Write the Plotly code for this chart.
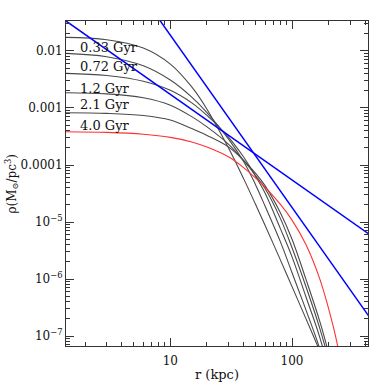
import math
import plotly.graph_objects as go

r = [1.3, 3, 6, 10, 15, 20, 30, 40, 50, 60, 80, 100, 130, 170, 220]
r_red = [1.3, 3, 6, 10, 15, 20, 30, 40, 50, 60, 80, 100, 130, 170, 220, 250]

rho_033 = [1.734e-2, 1.578e-2, 1.127e-2, 5.89e-3, 2.34e-3, 9.53e-4, 2.01e-4, 5.77e-5,
           2.07e-5, 8.77e-6, 2.19e-6, 7.36e-7, 2.02e-7, 5.33e-8, 1.48e-8]
rho_072 = [9.12e-3, 7.94e-3, 5.50e-3, 3.09e-3, 1.55e-3, 8.32e-4, 2.88e-4, 1.15e-4,
           4.57e-5, 1.91e-5, 4.57e-6, 1.29e-6, 2.88e-7, 5.75e-8, 8.13e-9]
rho_12 = [4.06e-3, 3.71e-3, 2.94e-3, 2.04e-3, 1.23e-3, 7.40e-4, 3.08e-4, 1.38e-4,
          6.44e-5, 3.23e-5, 7.74e-6, 2.45e-6, 4.89e-7, 9.10e-8, 1.15e-8]
rho_21 = [1.85e-3, 1.77e-3, 1.51e-3, 1.12e-3, 7.05e-4, 4.66e-4, 2.33e-4, 1.20e-4,
          6.58e-5, 3.87e-5, 1.17e-5, 3.53e-6, 7.38e-7, 1.31e-7, 1.85e-8]
rho_40 = [8.28e-4, 8.05e-4, 7.38e-4, 6.14e-4, 4.35e-4, 3.30e-4, 2.08e-4, 1.20e-4,
          7.21e-5, 4.35e-5, 1.47e-5, 4.99e-6, 9.95e-7, 1.73e-7, 2.33e-8]
rho_red = [3.84e-4, 3.73e-4, 3.46e-4, 3.05e-4, 2.54e-4, 2.06e-4, 1.39e-4, 8.99e-5,
           5.94e-5, 4.11e-5, 2.06e-5, 1.08e-5, 4.02e-6, 9.64e-7, 1.36e-7, 3.84e-8]

# the two power-law lines (endpoints)
r_steep = [5, 500]
rho_steep = [0.154, 1.39e-7]
r_flat = [1, 500]
rho_flat = [0.0551, 4.86e-6]

labels = ["0.33 Gyr", "0.72 Gyr", "1.2 Gyr", "2.1 Gyr", "4.0 Gyr"]
label_y = [0.0113, 0.00531, 0.00224, 0.00113, 0.000503]

y_ticks = [1e-2, 1e-3, 1e-4, 1e-5, 1e-6, 1e-7]
y_text = ["0.01", "0.001", "0.0001", "10<sup>−5</sup>", "10<sup>−6</sup>", "10<sup>−7</sup>"]
x_ticks = [10, 100]
x_text = ["10", "100"]
x_minor = [2, 3, 4, 5, 6, 7, 8, 9, 20, 30, 40, 50, 60, 70, 80, 90, 200, 300, 400]
y_minor = [m * 10.0 ** e for e in range(-8, -1) for m in range(2, 10)]

FONT = "DejaVu Serif"
AX = "#333333"
TXT = "#111111"

fig = go.Figure()
for prof in [rho_033, rho_072, rho_12, rho_21, rho_40]:
    fig.add_trace(go.Scatter(x=r, y=prof, mode="lines", line_shape="spline",
                             line=dict(color="#4a4a4a", width=1.1), showlegend=False))
fig.add_trace(go.Scatter(x=r_red, y=rho_red, mode="lines", line_shape="spline",
                         line=dict(color="#ff3030", width=1.1), showlegend=False))
fig.add_trace(go.Scatter(x=r_steep, y=rho_steep, mode="lines",
                         line=dict(color="#0000ff", width=1.5), showlegend=False))
fig.add_trace(go.Scatter(x=r_flat, y=rho_flat, mode="lines",
                         line=dict(color="#0000ff", width=1.5), showlegend=False))

for txt, yv in zip(labels, label_y):
    fig.add_annotation(x=0.244, y=math.log10(yv), text=txt, showarrow=False,
                       xanchor="left", yanchor="middle",
                       font=dict(family=FONT, size=13, color=TXT))

# axis titles as annotations so the margins stay fixed
fig.add_annotation(xref="paper", yref="paper", x=-0.182, y=0.5,
                   xanchor="center", yanchor="middle",
                   text="ρ(M<sub>⊙</sub>/pc<sup>3</sup>)", textangle=-90,
                   showarrow=False, font=dict(family=FONT, size=12, color=TXT))
fig.add_annotation(xref="paper", yref="paper", x=0.5, y=-0.089,
                   xanchor="center", yanchor="middle", text="r (kpc)",
                   showarrow=False, font=dict(family=FONT, size=13, color=TXT))

axis_common = dict(type="log", showgrid=False, zeroline=False, showline=True,
                   automargin=False,
                   linecolor=AX, linewidth=1, mirror="allticks", ticks="inside",
                   ticklen=8, tickcolor=AX, tickwidth=1,
                   tickfont=dict(family=FONT, size=12, color=TXT))

fig.update_xaxes(**axis_common, range=[0.143, 2.624], tickvals=x_ticks, ticktext=x_text,
                 ticklabelstandoff=4,
                 minor=dict(ticks="inside", ticklen=4, tickcolor=AX, tickwidth=1,
                            showgrid=False, tickvals=x_minor))
fig.update_yaxes(**axis_common, range=[-7.175, -1.474], tickvals=y_ticks, ticktext=y_text,
                 minor=dict(ticks="inside", ticklen=4, tickcolor=AX, tickwidth=1,
                            showgrid=False, tickvals=y_minor))

fig.update_layout(width=388, height=388, paper_bgcolor="white", plot_bgcolor="white",
                  margin=dict(l=66, r=20, t=21, b=42))

# drop the default page margin so the figure sits at the window corner
fig.write_html("out.html", config={"displayModeBar": False},
               post_script="document.body.style.margin='0';")
